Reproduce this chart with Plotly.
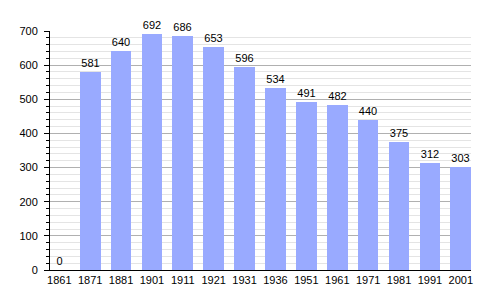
import plotly.graph_objects as go

years = ["1861", "1871", "1881", "1901", "1911", "1921", "1931", "1936",
         "1951", "1961", "1971", "1981", "1991", "2001"]
population = [0, 581, 640, 692, 686, 653, 596, 534, 491, 482, 440, 375, 312, 303]
y_ticks = [0, 100, 200, 300, 400, 500, 600, 700]

fig = go.Figure()
fig.add_trace(go.Bar(
    x=list(range(len(years))),
    y=population,
    width=0.67,
    marker=dict(color="#99aaff", line=dict(width=0)),
    text=[str(v) for v in population],
    textposition="outside",
    cliponaxis=False,
    textfont=dict(family="Liberation Sans, Arial", size=11, color="#000000"),
))

fig.update_layout(
    width=500, height=300,
    margin=dict(l=50, r=29, t=31, b=30),
    paper_bgcolor="white", plot_bgcolor="white",
    showlegend=False,
    bargap=0,
    font=dict(family="Liberation Sans, Arial", size=11, color="#000000"),
)
fig.update_xaxes(
    range=[-0.3, 13.33],
    tickmode="array",
    tickvals=list(range(len(years))),
    ticktext=years,
    showline=True, linecolor="#000000", linewidth=1,
    showgrid=False, ticks="", zeroline=False,
    tickfont=dict(size=11, color="#000000"),
    ticklabelstandoff=0,
)
fig.update_yaxes(
    range=[0, 700],
    tickmode="array",
    tickvals=y_ticks,
    showline=True, linecolor="#000000", linewidth=1,
    ticks="outside", ticklen=5, tickcolor="#000000", tickwidth=1,
    showgrid=True, gridcolor="#b0b0b0", gridwidth=1,
    zeroline=False,
    tickfont=dict(size=11, color="#000000"),
    ticklabelstandoff=4,
    minor=dict(dtick=20, showgrid=True, gridcolor="#e4e4e4", gridwidth=1,
               ticks="outside", ticklen=3, tickcolor="#000000"),
)

fig.write_html("out.html")
